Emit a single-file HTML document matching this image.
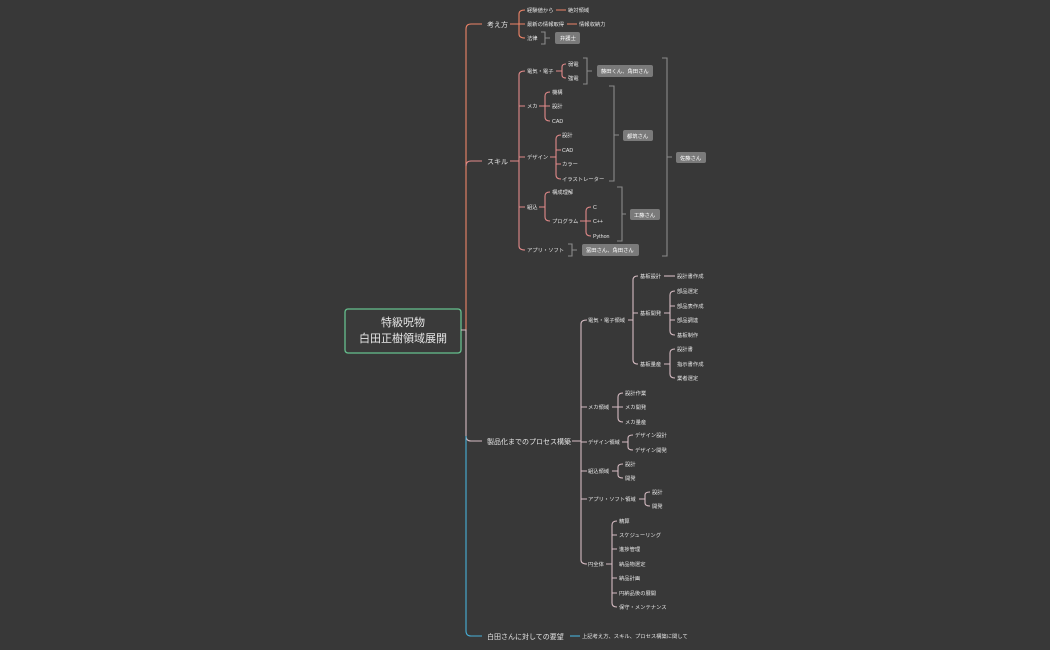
<!DOCTYPE html>
<html><head><meta charset="utf-8"><style>
body{margin:0;background:#383838;}
svg{display:block;font-family:"Liberation Sans","Noto Sans CJK JP",sans-serif;}
text{fill:#e6e6e6;font-size:5.3px;}
.m{font-size:7px;}
.b{fill:#fff;font-size:5.3px;}
path{fill:none;stroke-width:1.1;}
.o{stroke:#ee8468;}.s{stroke:#e28a8a;}.p{stroke:#d6bcc3;}.bl{stroke:#47b0d8;}.g{stroke:#8a8a8a;}
rect.t{fill:#7a7a7a;}
</style></head><body>
<svg width="1050" height="650" viewBox="0 0 1050 650">
<rect width="1050" height="650" fill="#383838"/>
<!-- root -->
<rect x="345" y="309" width="116" height="44" rx="3" fill="#3a3a3a" stroke="#66c08e" stroke-width="1.3"/>
<text x="403" y="326" text-anchor="middle" style="font-size:11px" fill="#f0f0f0">特級呪物</text>
<text x="403" y="342" text-anchor="middle" style="font-size:11px" fill="#f0f0f0">白田正樹領域展開</text>
<!-- trunk -->
<path class="o" d="M461 330 H466 V29 Q466 24 471 24 H482"/>
<path class="s" d="M466 166 Q466 161 471 161 H482"/>
<path class="p" d="M461 330 H466 V436 Q466 441 471 441 H482"/>
<path class="bl" d="M466 436 V631 Q466 636 471 636 H482"/>
<text class="m" x="487" y="27">考え方</text>
<text class="m" x="487" y="164">スキル</text>
<text class="m" x="487" y="444">製品化までのプロセス構築</text>
<text class="m" x="487" y="639">白田さんに対しての要望</text>
<path class="bl" d="M570 636 H580"/>
<text x="582" y="638">上記考え方、スキル、プロセス構築に関して</text>

<!-- 考え方 -->
<path class="o" d="M510 24 H519 M525 10 Q519 10 519 14 V34 Q519 38 525 38 M519 24 H525"/>
<text x="527" y="12">経験値から</text><text x="527" y="26">最新の情報取得</text><text x="527" y="40">法律</text>
<path class="o" d="M556 10 H566 M567 24 H577"/>
<text x="568" y="12">絶対領域</text><text x="579" y="26">情報収納力</text>
<path class="g" d="M541 32 H545 V44 H541 M545 38 H550"/>
<rect class="t" x="555" y="32" width="25" height="12" rx="2"/><text class="b" x="560" y="40">弁護士</text>

<!-- スキル -->
<path class="s" d="M510 161 H519 M525 71 Q519 71 519 75 V246 Q519 250 525 250 M519 106 H525 M519 157 H525 M519 207 H525"/>
<text x="527" y="73">電気・電子</text><text x="527" y="108">メカ</text><text x="527" y="159">デザイン</text><text x="527" y="209">組込</text><text x="527" y="252">アプリ・ソフト</text>
<path class="s" d="M556 71 H562 M566 64 Q562 64 562 67 V75 Q562 78 566 78"/>
<text x="568" y="66">弱電</text><text x="568" y="80">強電</text>
<path class="g" d="M583 58 H587 V84 H583 M587 71 H592"/>
<rect class="t" x="597" y="65" width="56" height="12" rx="2"/><text class="b" x="601" y="73">藤田くん、角田さん</text>
<path class="s" d="M539 106 H545 M550 92 Q545 92 545 96 V117 Q545 121 550 121 M545 106 H550"/>
<text x="552" y="94">機構</text><text x="552" y="108">設計</text><text x="552" y="123">CAD</text>
<path class="s" d="M550 157 H556 M561 135 Q556 135 556 139 V175 Q556 179 561 179 M556 150 H561 M556 164 H561"/>
<text x="562" y="137">設計</text><text x="562" y="152">CAD</text><text x="562" y="166">カラー</text><text x="562" y="181">イラストレーター</text>
<path class="g" d="M609 86 H614 V181 H609 M614 135 H619"/>
<rect class="t" x="623" y="130" width="30" height="11" rx="2"/><text class="b" x="627" y="138">都筑さん</text>
<path class="s" d="M539 207 H545 M550 192 Q545 192 545 196 V217 Q545 221 550 221"/>
<text x="552" y="194">構成理解</text><text x="552" y="223">プログラム</text>
<path class="s" d="M580 221 H586 M591 207 Q586 207 586 211 V232 Q586 236 591 236 M586 221 H591"/>
<text x="593" y="209">C</text><text x="593" y="223">C++</text><text x="593" y="238">Python</text>
<path class="g" d="M617 187 H622 V241 H617 M622 214 H626"/>
<rect class="t" x="630" y="209" width="30" height="11" rx="2"/><text class="b" x="634" y="217">工藤さん</text>
<path class="g" d="M568 244 H572 V256 H568 M572 250 H577"/>
<rect class="t" x="582" y="244" width="57" height="12" rx="2"/><text class="b" x="586" y="252">冨田さん、角田さん</text>
<path class="g" d="M662 58 H667 V256 H662 M667 157 H672"/>
<rect class="t" x="676" y="152" width="30" height="11" rx="2"/><text class="b" x="680" y="160">佐藤さん</text>

<!-- プロセス -->
<path class="p" d="M572 441 H581 M587 320 Q581 320 581 324 V560 Q581 564 587 564 M581 407 H587 M581 442 H587 M581 471 H587 M581 499 H587"/>
<text x="588" y="322">電気・電子領域</text><text x="588" y="409">メカ領域</text><text x="588" y="444">デザイン領域</text><text x="588" y="473">組込領域</text><text x="588" y="501">アプリ・ソフト領域</text><text x="588" y="566">円全体</text>
<path class="p" d="M628 320 H633 M638 276 Q633 276 633 280 V360 Q633 364 638 364 M633 313 H638"/>
<text x="640" y="278">基板設計</text><text x="640" y="315">基板開発</text><text x="640" y="366">基板量産</text>
<path class="p" d="M664 276 H675"/><text x="677" y="278">設計書作成</text>
<path class="p" d="M664 313 H670 M675 291 Q670 291 670 295 V331 Q670 335 675 335 M670 306 H675 M670 320 H675"/>
<text x="677" y="293">部品選定</text><text x="677" y="308">部品表作成</text><text x="677" y="322">部品調達</text><text x="677" y="337">基板制作</text>
<path class="p" d="M664 364 H670 M675 349 Q670 349 670 353 V374 Q670 378 675 378"/>
<text x="677" y="351">設計書</text><text x="677" y="366">指示書作成</text><text x="677" y="380">業者選定</text>
<path class="p" d="M612 407 H618 M623 393 Q618 393 618 397 V418 Q618 422 623 422 M618 407 H623"/>
<text x="625" y="395">設計作業</text><text x="625" y="409">メカ開発</text><text x="625" y="424">メカ量産</text>
<path class="p" d="M622 442 H628 M633 435 Q628 435 628 438 V447 Q628 450 633 450"/>
<text x="635" y="437">デザイン設計</text><text x="635" y="452">デザイン開発</text>
<path class="p" d="M612 471 H618 M623 464 Q618 464 618 467 V475 Q618 478 623 478"/>
<text x="625" y="466">設計</text><text x="625" y="480">開発</text>
<path class="p" d="M639 499 H645 M650 492 Q645 492 645 495 V503 Q645 506 650 506"/>
<text x="652" y="494">設計</text><text x="652" y="508">開発</text>
<path class="p" d="M606 564 H612 M617 521 Q612 521 612 525 V603 Q612 607 617 607 M612 535 H617 M612 549 H617 M612 578 H617 M612 593 H617"/>
<text x="619" y="523">精算</text><text x="619" y="537">スケジューリング</text><text x="619" y="551">進捗管理</text><text x="619" y="566">納品物選定</text><text x="619" y="580">納品計画</text><text x="619" y="595">円納品後の展開</text><text x="619" y="609">保守・メンテナンス</text>
</svg>
</body></html>
